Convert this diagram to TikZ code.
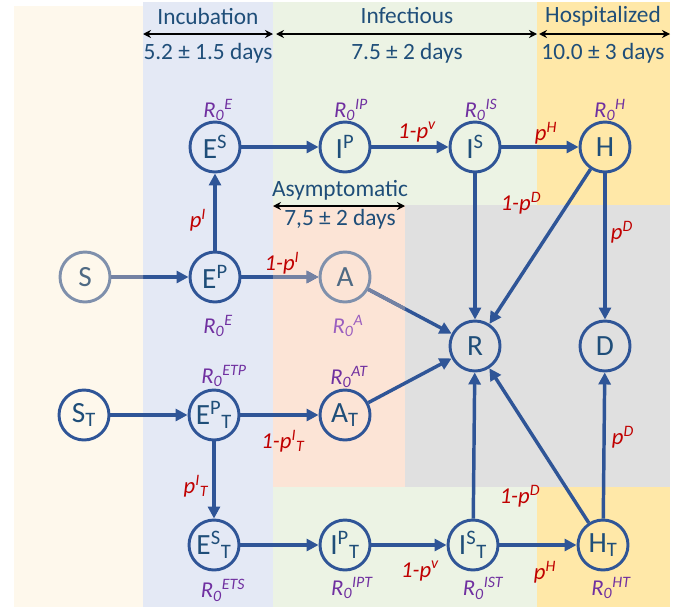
\documentclass[tikz,border=0pt]{standalone}
\usepackage{fontspec}
\setmainfont{Carlito}
\usetikzlibrary{arrows.meta}

\definecolor{nodeblue}{HTML}{2F5597}
\definecolor{textblue}{HTML}{1F4E79}
\definecolor{rpurple}{HTML}{7030A0}
\definecolor{rpurplelight}{HTML}{9B5FBF}
\definecolor{ratered}{HTML}{C00000}
\definecolor{fadecirc}{HTML}{7F90AC}
\definecolor{fadetext}{HTML}{4F6A84}
\definecolor{fadeline}{HTML}{7482A3}
\definecolor{creamback}{HTML}{FEF8EC}
\definecolor{incback}{HTML}{E4E9F5}
\definecolor{infback}{HTML}{ECF3E4}
\definecolor{hospback}{HTML}{FFE8A8}
\definecolor{asymback}{HTML}{FCE4D6}
\definecolor{outback}{HTML}{E0E0E0}

\newcommand{\Rzero}[1]{R\textsubscript{0}\textsuperscript{#1}}

\tikzset{
  comp/.style={circle, draw=nodeblue, line width=2.2pt, minimum size=37.5pt,
    inner sep=0pt, text=textblue, font=\fontsize{22}{24}\selectfont},
  fadedcomp/.style={comp, draw=fadecirc, text=fadetext},
  flow/.style={draw=nodeblue, line width=2.6pt, -{Triangle[length=9pt,width=9pt]}},
  rate/.style={text=ratered, font=\fontsize{17}{19}\selectfont\itshape},
  rnought/.style={text=rpurple, font=\fontsize{17}{19}\selectfont\itshape},
  phase/.style={text=textblue, font=\fontsize{17.5}{20}\selectfont},
  period/.style={line width=1.1pt, {Stealth[length=6pt,width=6pt]}-{Stealth[length=6pt,width=6pt]}},
}

\begin{document}
\begin{tikzpicture}[x=0.75pt, y=-0.75pt]
\useasboundingbox (0,0) rectangle (680,607);

% background bands
\fill[creamback] (14,6) rectangle (143,607);
\fill[incback] (143,2) rectangle (273,607);
\fill[infback] (273,2) rectangle (537,205);
\fill[hospback] (537,2) rectangle (670,205);
\fill[asymback] (273,205) rectangle (405,487);
\fill[outback] (405,205) rectangle (670,487);
\fill[infback] (273,487) rectangle (537,607);
\fill[hospback] (537,487) rectangle (670,607);

% phases
\node[phase] (inc) at (208,16) {Incubation};
\node[phase] (inf) at (407,16) {Infectious};
\node[phase] (hosp) at (603,16) {Hospitalized};
\coordinate (inc-l) at (143,34);
\coordinate (inc-r) at (273,34);
\coordinate (inf-l) at (276,34);
\coordinate (inf-r) at (537,34);
\coordinate (hosp-l) at (539,34);
\coordinate (hosp-r) at (670,34);
\draw[period] (inc-l) -- (inc-r);
\draw[period] (inf-l) -- (inf-r);
\draw[period] (hosp-l) -- (hosp-r);
\node[phase] (inc-d) at (208,53) {5.2 ± 1.5 days};
\node[phase] (inf-d) at (407,53) {7.5 ± 2 days};
\node[phase] (hosp-d) at (603,53) {10.0 ± 3 days};

\node[phase] (asym) at (340,190) {Asymptomatic};
\coordinate (asym-l) at (273,206);
\coordinate (asym-r) at (405,206);
\draw[period] (asym-l) -- (asym-r);
\node[phase] (asym-d) at (340,219) {7,5 ± 2 days};

% compartments
\node[comp] (es) at (215,147) {E\textsuperscript{S}};
\node[comp] (ip) at (345,147) {I\textsuperscript{P}};
\node[comp] (is) at (475,147) {I\textsuperscript{S}};
\node[comp] (h) at (605,147) {H};
\node[fadedcomp] (s) at (85,277) {S};
\node[comp] (ep) at (215,277) {E\textsuperscript{P}};
\node[fadedcomp] (a) at (345,277) {A};
\node[comp] (r) at (475,346) {R};
\node[comp] (d) at (605,346) {D};
\node[comp] (st) at (84,415) {S\textsubscript{T}};
\node[comp] (ept) at (214,415) {E\textsuperscript{P}\textsubscript{T}};
\node[comp] (at) at (345,415) {A\textsubscript{T}};
\node[comp] (est) at (214,545) {E\textsuperscript{S}\textsubscript{T}};
\node[comp] (ipt) at (345,545) {I\textsuperscript{P}\textsubscript{T}};
\node[comp] (ist) at (473,545) {I\textsuperscript{S}\textsubscript{T}};
\node[comp] (ht) at (603,545) {H\textsubscript{T}};

% flows
\draw[flow] (es) -- (ip);
\draw[flow] (ip) -- (is);
\draw[flow] (is) -- (h);
\draw[flow] (ep) -- (es);
\draw[flow] (s) -- (ep);
\draw[flow] (ep) -- (a);
\draw[flow] (a) -- (r);
\draw[flow] (is) -- (r);
\draw[flow] (h) -- (r);
\draw[flow] (h) -- (d);
\draw[flow] (st) -- (ept);
\draw[flow] (ept) -- (at);
\draw[flow] (at) -- (r);
\draw[flow] (ept) -- (est);
\draw[flow] (est) -- (ipt);
\draw[flow] (ipt) -- (ist);
\draw[flow] (ist) -- (ht);
\draw[flow] (ist) -- (r);
\draw[flow] (ht) -- (r);
\draw[flow] (ht) -- (d);

% faded parts
\begin{scope}
  \clip (14,6) rectangle (143,607);
  \draw[flow, draw=fadeline] (s) -- (ep);
\end{scope}
\begin{scope}
  \clip (273,205) rectangle (405,330);
  \draw[flow, draw=fadeline] (ep) -- (a);
  \draw[flow, draw=fadeline] (a) -- (r);
\end{scope}

% R0 labels
\node[rnought] (r-es) at (218,110) {\Rzero{E}};
\node[rnought] (r-ip) at (351,110) {\Rzero{IP}};
\node[rnought] (r-is) at (481,110) {\Rzero{IS}};
\node[rnought] (r-h) at (610,110) {\Rzero{H}};
\node[rnought] (r-ep) at (218,326) {\Rzero{E}};
\node[rnought, text=rpurplelight] (r-a) at (348,326) {\Rzero{A}};
\node[rnought] (r-ept) at (224,376) {\Rzero{ETP}};
\node[rnought] (r-at) at (349,377) {\Rzero{AT}};
\node[rnought] (r-est) at (223,590) {\Rzero{ETS}};
\node[rnought] (r-ipt) at (352,588) {\Rzero{IPT}};
\node[rnought] (r-ist) at (483,588) {\Rzero{IST}};
\node[rnought] (r-ht) at (611,588) {\Rzero{HT}};

% transition probabilities
\node[rate] (p-is) at (417,132) {1-p\textsuperscript{v}};
\node[rate] (p-h) at (546,133) {p\textsuperscript{H}};
\node[rate] (p-hr) at (521,203) {1-p\textsuperscript{D}};
\node[rate] (p-hd) at (622,232) {p\textsuperscript{D}};
\node[rate] (p-es) at (198,220) {p\textsuperscript{I}};
\node[rate] (p-a) at (282,263) {1-p\textsuperscript{I}};
\node[rate] (p-at) at (283,441) {1-p\textsuperscript{I}\textsubscript{T}};
\node[rate] (p-est) at (196,486) {p\textsuperscript{I}\textsubscript{T}};
\node[rate] (p-htr) at (520,496) {1-p\textsuperscript{D}};
\node[rate] (p-htd) at (623,437) {p\textsuperscript{D}};
\node[rate] (p-ist) at (420,571) {1-p\textsuperscript{v}};
\node[rate] (p-ht) at (545,572) {p\textsuperscript{H}};
\end{tikzpicture}
\end{document}
